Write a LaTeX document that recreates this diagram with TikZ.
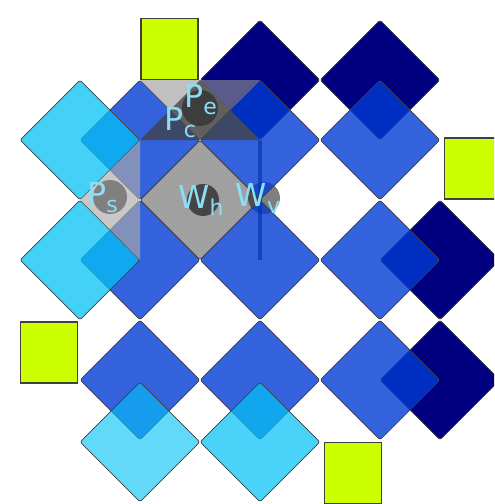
\documentclass[tikz,border=0pt]{standalone}
\usepackage{fontspec}
\setmainfont{DejaVu Sans}
\usepackage{tikz}
\usetikzlibrary{shapes.geometric,positioning}
\usepackage{xcolor}
\definecolor{tilenavy}{RGB}{0,0,128}
\definecolor{tileblue}{RGB}{0,59,211}
\definecolor{tilecyan}{RGB}{4,193,246}
\definecolor{tilelime}{RGB}{204,255,0}
\definecolor{tilegray}{RGB}{160,160,160}
\definecolor{labelblue}{RGB}{140,222,245}
\pgfdeclarelayer{background}
\pgfsetlayers{background,main}
\newcommand{\lsub}[1]{\raisebox{-4pt}{\fontsize{12.5}{14}\selectfont#1}}

\begin{document}
\begin{tikzpicture}[
    x=0.02cm, y=-0.02cm,
    tile/.style={diamond, aspect=1, draw=black!75, line width=0.4pt, rounded corners=1.5pt, inner sep=0pt, outer sep=0pt, minimum width=2.4cm, minimum height=2.4cm},
    navytile/.style={tile, fill=tilenavy},
    bluetile/.style={tile, fill=tileblue, fill opacity=0.8},
    cyantile/.style={tile, fill=tilecyan, fill opacity=#1},
    cyantile/.default=0.75,
    limebox/.style={rectangle, draw=black!75, line width=0.9pt, fill=tilelime, inner sep=0pt, minimum width=1.14cm, minimum height=1.22cm},
    dot/.style={circle, inner sep=0pt, minimum size=0.68cm, fill=#1},
    lbl/.style={inner sep=0pt, text=labelblue, font=\fontsize{18}{20}\selectfont}
]
\useasboundingbox (0,0) rectangle (494,504);
\clip (0,0) rectangle (494,504);

% dark tiles
\node[navytile] (n1) at (260,80) {};
\node[navytile] (n2) at (380,80) {};
\node[navytile] (n3) at (440,260) {};
\node[navytile] (n4) at (440,380) {};

% blue grid
\node[bluetile] (m11) at (140,140) {};
\node[bluetile] (m12) at (260,140) {};
\node[bluetile] (m13) at (380,140) {};
\node[bluetile] (m21) at (140,260) {};
\node[bluetile] (m22) at (260,260) {};
\node[bluetile] (m23) at (380,260) {};
\node[bluetile] (m31) at (140,380) {};
\node[bluetile] (m32) at (260,380) {};
\node[bluetile] (m33) at (380,380) {};

% light tiles
\node[cyantile] (c1) at (80,140) {};
\node[cyantile] (c2) at (80,260) {};
\node[cyantile=0.62] (c3) at (140,442) {};
\node[cyantile=0.72] (c4) at (260,442) {};

\begin{pgfonlayer}{background}
\node[tile, fill=tilegray] (wh) at (200,200) {};
\draw[black!60, line width=2.2pt] (m12.center) -- (m22.center);
\node[dot=black, fill opacity=0.5, minimum size=0.64cm] (wvdot) at (264,198) {};
\end{pgfonlayer}

% plaquettes
\fill[black!33, fill opacity=0.65] (m11.center) -- (c1.south) -- (m21.center) -- cycle;
\fill[black!41, fill opacity=0.6] (m11.north) -- (n1.center) -- (m11.east) -- cycle;
\fill[black!75, fill opacity=0.75] (m11.center) -- (n1.west) -- (m12.center) -- cycle;

\node[limebox] (l1) at (169.5,49) {};
\node[limebox] (l2) at (473,168.5) {};
\node[limebox] (l3) at (49,352.5) {};
\node[limebox] (l4) at (353,473) {};

\node[dot=black!50] (psdot) at (110,197) {};
\node[dot=black!76, minimum size=0.72cm] (pedot) at (200,108) {};
\node[dot=black!73, minimum size=0.64cm] (whdot) at (203,200) {};

\node[lbl] (ps) at (102.5,198) {P\lsub{s}};
\node[lbl] (pe) at (200.5,99.5) {P\lsub{e}};
\node[lbl] (pc) at (180.5,122.5) {P\lsub{c}};
\node[lbl] (whl) at (201,200) {W\lsub{h}};
\node[lbl] (wvl) at (258,198) {W\lsub{v}};
\end{tikzpicture}
\end{document}
